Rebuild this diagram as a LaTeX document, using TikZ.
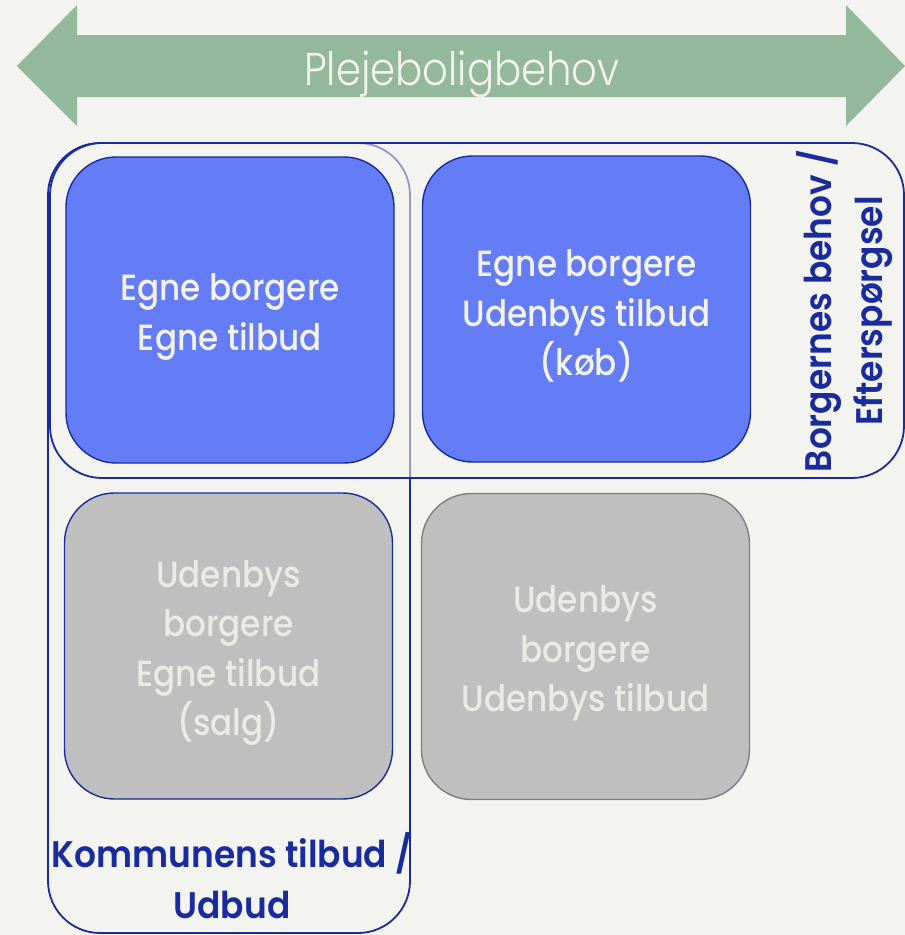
\documentclass[tikz,border=0pt]{standalone}
\usepackage{fontspec}
\setmainfont{Poppins}
\newfontfamily\boxfont{Poppins Medium}[FakeStretch=0.895]
\newfontfamily\labelfont{Poppins SemiBold}[FakeStretch=0.93]
\newfontfamily\titlefont{Poppins Light}[FakeStretch=0.875]
\definecolor{bg}{HTML}{F3F3EF}
\definecolor{arrowgreen}{HTML}{94B89B}
\definecolor{tilefill}{HTML}{647CF6}
\definecolor{navy}{HTML}{1A2BA0}
\definecolor{greyfill}{HTML}{BFBFBF}
\definecolor{greyline}{HTML}{7F7F7F}
\definecolor{paletext}{HTML}{F2F2EE}
\definecolor{greytext}{HTML}{EAEAE6}
\tikzset{
  tile/.style={rounded corners=50pt, minimum width=328pt, minimum height=306pt,
    inner sep=0pt, line width=1.4pt},
  bluetile/.style={tile, fill=tilefill, draw=navy},
  greytile/.style={tile, fill=greyfill},
  tiletext/.style={align=center, inner sep=0pt,
    font=\boxfont\fontsize{36.5}{49.3}\selectfont},
  frame/.style={draw=navy, line width=1.8pt, rounded corners=52pt},
  grouplabel/.style={text=navy, align=center, inner sep=0pt,
    font=\labelfont\fontsize{37}{51}\selectfont},
}
\begin{document}
\begin{tikzpicture}[x=1pt, y=-1pt]
  \useasboundingbox (0,0) rectangle (905,935);
  \fill[bg] (0,0) rectangle (905,935);

  % double-headed arrow across the top
  \fill[arrowgreen] (17,66) -- (77,5) -- (77,35) -- (846,35) -- (846,5)
    -- (905,66) -- (846,126) -- (846,97) -- (77,97) -- (77,126) -- cycle;
  \node[text=paletext, font=\titlefont\fontsize{46}{54}\selectfont] (title)
    at (462,74) {Plejeboligbehov};

  % column frame: the municipality's supply
  \draw[frame] (48,143) rectangle (410,933);
  % row frame: the citizens' demand, washing out the column frame beneath it
  \draw[frame, fill=bg, fill opacity=0.55] (50,143) rectangle (904,478);

  % four quadrants
  \node[bluetile] (ownown) at (230,310) {};
  \node[bluetile] (ownbuy) at (586.5,309) {};
  \node[greytile, draw=navy] (othersell) at (228.5,646) {};
  \node[greytile, draw=greyline] (otherother) at (585.5,646.5) {};

  \node[tiletext, text=paletext] (ownowntext) at ([yshift=-7pt]ownown.center)
    {Egne borgere\\Egne tilbud};
  \node[tiletext, text=paletext] (ownbuytext) at ([yshift=-7pt]ownbuy.center)
    {Egne borgere\\Udenbys tilbud\\(køb)};
  \node[tiletext, text=greytext] (otherselltext) at ([yshift=-7pt]othersell.center)
    {Udenbys\\borgere\\Egne tilbud\\(salg)};
  \node[tiletext, text=greytext] (otherothertext) at ([yshift=-7pt]otherother.center)
    {Udenbys\\borgere\\Udenbys tilbud};

  % frame captions
  \node[grouplabel] (supply) at (232,876) {Kommunens tilbud /\\Udbud};
  \node[grouplabel, rotate=90] (demand) at (845,311) {Borgernes behov /\\Efterspørgsel};
\end{tikzpicture}
\end{document}
